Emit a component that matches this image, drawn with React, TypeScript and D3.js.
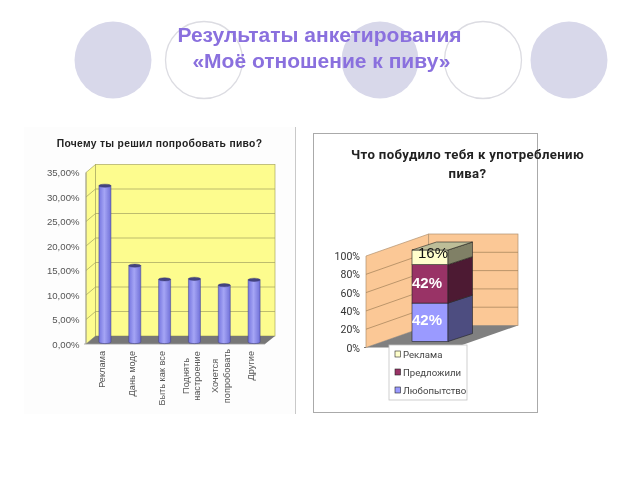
import React from "react";
import * as d3 from "d3";

const barCategories = [["Реклама"], ["Дань моде"], ["Быть как все"], ["Поднять", "настроение"], ["Хочется", "попробовать"], ["Другие"]];
const barValues = [32.3, 16, 13.2, 13.3, 12, 13.1];
const barTicks = [0, 5, 10, 15, 20, 25, 30, 35];
const stackNames = ["Любопытство", "Предложили", "Реклама"];
const stackValues = [42, 42, 16];
const stackTicks = [0, 20, 40, 60, 80, 100];
const filledCircles = [113, 380, 569];
const hollowCircles = [204, 483];

const sans = "'Liberation Sans', Arial, sans-serif";
const fmt = (v: number) => v.toFixed(2).replace(".", ",") + "%";

function BarChart() {
  const y = d3.scaleLinear().domain([0, 35]).range([344, 172.5]);
  const x = d3.scaleBand().domain(barCategories.map((_, i) => String(i))).range([86, 265]).paddingInner(0.6).paddingOuter(0.3);
  const dy = -8;
  const line = d3.line();
  const wallL = 95.5, wallR = 275;
  return (
    <g>
      <rect x={24} y={127} width={271} height={287} fill="#fdfdfd" />
      <line x1={295.5} x2={295.5} y1={127} y2={414} stroke="#c9c9c9" />
      <text x={159.5} y={147} textAnchor="middle" fontFamily={sans} fontWeight="bold" fontSize={10.3} letterSpacing={0.3} fill="#222">Почему ты решил попробовать пиво?</text>
      <rect x={wallL} y={y(35) + dy} width={wallR - wallL} height={y(0) - y(35)} fill="#fdfc8e" stroke="#a8a860" strokeWidth={0.7} />
      <path d={line([[86, y(0)], [wallL, y(0) + dy], [wallL, y(35) + dy], [86, y(35)]])! + "Z"} fill="#fdfc8e" stroke="#a8a860" strokeWidth={0.7} />
      {barTicks.slice(1, -1).map((t) => (
        <path key={t} d={line([[86, y(t)], [wallL, y(t) + dy], [wallR, y(t) + dy]])!} fill="none" stroke="#a0a060" strokeWidth={0.7} />
      ))}
      <path d={line([[86, y(0)], [wallL, y(0) + dy], [wallR, y(0) + dy], [265, y(0)]])! + "Z"} fill="#777" />
      <line x1={86} x2={86} y1={y(0)} y2={y(35)} stroke="#999" strokeWidth={0.8} />
      <line x1={84} x2={265} y1={y(0)} y2={y(0)} stroke="#999" strokeWidth={0.8} />
      {barTicks.map((t) => (
        <text key={t} x={79.5} y={y(t) + 3.5} textAnchor="end" fontFamily={sans} fontSize={9.6} fill="#555">{fmt(t)}</text>
      ))}
      <defs>
        <linearGradient id="cyl" x1="0" x2="1" y1="0" y2="0">
          <stop offset="0" stopColor="#7676e0" />
          <stop offset="0.45" stopColor="#a5a5f5" />
          <stop offset="1" stopColor="#7070d8" />
        </linearGradient>
      </defs>
      {barValues.map((v, i) => {
        const left = x(String(i))! + 4;
        const w = 12;
        const base = y(0) - 2;
        const top = y(v);
        return (
          <g key={i}>
            <path d={`M${left},${top} L${left},${base} A${w / 2},1.6 0 0 0 ${left + w},${base} L${left + w},${top} Z`} fill="url(#cyl)" stroke="#3d3d8a" strokeWidth={0.5} />
            <ellipse cx={left + w / 2} cy={top} rx={w / 2} ry={1.6} fill="#44447f" stroke="#33336e" strokeWidth={0.4} />
          </g>
        );
      })}
      {barCategories.map((lines, i) => {
        const cx = x(String(i))! + 10 - (lines.length - 1) * 5.8;
        return lines.map((l, j) => (
          <text key={j} transform={`translate(${cx + j * 11.5},${lines.length > 1 ? 376 : 351}) rotate(-90)`} textAnchor={lines.length > 1 ? "middle" : "end"} fontFamily={sans} fontSize={9.2} fill="#555">{l}</text>
        ));
      })}
    </g>
  );
}

function StackChart() {
  const y = d3.scaleLinear().domain([0, 100]).range([347.5, 256]);
  const line = d3.line();
  const dx = 62.7, dy = -22;
  const bar = d3.stack<number[]>().keys(["0", "1", "2"]).value((d, k) => d[+k])([stackValues]);
  const barColors = ["#9a9aff", "#993366", "#ffffcc"];
  const sideColors = ["#4d4d80", "#4d1a33", "#808066"];
  const labelShift = [2.5, 4.5, 0.5];
  const bx0 = 412, bx1 = 448, off = -6, bdx = 24.5, bdy = -8;
  const by = (v: number) => y(v) + off;
  return (
    <g>
      <rect x={313.5} y={133.5} width={224} height={279} fill="#fff" stroke="#aaa" strokeWidth={1} />
      <text fontFamily="Roboto, sans-serif" fontWeight="bold" fontSize={13.2} letterSpacing={0.35} fill="#222" textAnchor="middle">
        <tspan x={467.5} y={159}>Что побудило тебя к употреблению</tspan>
        <tspan x={467.5} y={178}>пива?</tspan>
      </text>
      <path d={line([[366, y(0)], [366 + dx, y(0) + dy], [366 + dx, y(100) + dy], [366, y(100)]])! + "Z"} fill="#fbc896" stroke="#b0916f" strokeWidth={0.7} />
      <rect x={366 + dx} y={y(100) + dy} width={518 - 366 - dx} height={y(0) - y(100)} fill="#fbc896" stroke="#b0916f" strokeWidth={0.7} />
      {stackTicks.slice(1, -1).map((t) => (
        <path key={t} d={line([[366, y(t)], [366 + dx, y(t) + dy], [518, y(t) + dy]])!} fill="none" stroke="#a08058" strokeWidth={0.7} />
      ))}
      <path d={line([[366, y(0)], [366 + dx, y(0) + dy], [518, y(0) + dy], [455, y(0)]])! + "Z"} fill="#808080" />
      <line x1={364} x2={366} y1={y(0)} y2={y(0)} stroke="#777" />
      {stackTicks.map((t) => (
        <text key={t} x={360} y={y(t) + 4} textAnchor="end" fontFamily="Roboto, sans-serif" fontSize={10.5} fill="#333">{t}%</text>
      ))}
      {bar.map((s, i) => {
        const y0 = by(s[0][0]), y1 = by(s[0][1]);
        return (
          <g key={i}>
            <rect x={bx0} y={y1} width={bx1 - bx0} height={y0 - y1} fill={barColors[i]} stroke="#222" strokeWidth={0.6} />
            <path d={line([[bx1, y0], [bx1 + bdx, y0 + bdy], [bx1 + bdx, y1 + bdy], [bx1, y1]])! + "Z"} fill={sideColors[i]} stroke="#222" strokeWidth={0.6} />
          </g>
        );
      })}
      <path d={line([[bx0, by(100)], [bx0 + bdx, by(100) + bdy], [bx1 + bdx, by(100) + bdy], [bx1, by(100)]])! + "Z"} fill="#bdbd98" stroke="#222" strokeWidth={0.6} />
      {bar.map((s, i) => {
        const mid = (by(s[0][0]) + by(s[0][1])) / 2;
        return (
          <text key={i} x={i === 2 ? 433 : 427} y={mid + labelShift[i]} textAnchor="middle" fontFamily={sans} fontWeight={i === 2 ? "normal" : "bold"} fontSize={15} fill={i === 2 ? "#111" : "#fff"}>{stackValues[i]}%</text>
        );
      })}
      <rect x={389} y={345} width={78} height={55} fill="#fff" stroke="#c4c4c4" strokeWidth={0.8} />
      {stackNames.map((n, i) => {
        const ly = 390 - i * 18;
        return (
          <g key={n}>
            <rect x={395} y={ly - 3} width={5.5} height={6} fill={barColors[i]} stroke="#222" strokeWidth={0.6} />
            <text x={403} y={ly + 3.5} fontFamily="Roboto, sans-serif" fontSize={9.6} fill="#444">{n}</text>
          </g>
        );
      })}
    </g>
  );
}

export default function App() {
  return (
    <svg width={640} height={480} viewBox="0 0 640 480" style={{ position: "absolute", left: 0, top: 0, background: "#fff", filter: "blur(0.45px)" }}>
      {filledCircles.map((c) => (
        <ellipse key={c} cx={c} cy={60} rx={38.5} ry={38.5} fill="#d8d8ea" />
      ))}
      {hollowCircles.map((c) => (
        <ellipse key={c} cx={c} cy={60} rx={38.5} ry={38.5} fill="none" stroke="#dcdce2" strokeWidth={1.3} />
      ))}
      <text fontFamily={sans} fontWeight="bold" fontSize={21} fill="#8a70de" textAnchor="middle">
        <tspan x={319.5} y={42}>Результаты анкетирования</tspan>
        <tspan x={321.5} y={68}>«Моё отношение к пиву»</tspan>
      </text>
      <BarChart />
      <StackChart />
    </svg>
  );
}
